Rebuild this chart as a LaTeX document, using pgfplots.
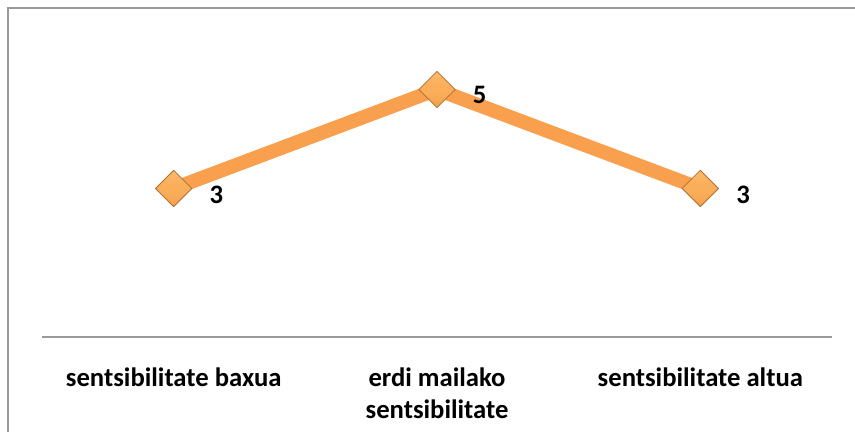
\documentclass[border=0pt]{standalone}
\usepackage{fontspec}
\setmainfont{Carlito}
\usepackage{pgfplots}
\pgfplotsset{compat=1.18}
\definecolor{lineorange}{HTML}{F9A04F}
\definecolor{marklight}{HTML}{FDC98A}
\definecolor{markmid}{HTML}{FAAE5A}
\definecolor{markdark}{HTML}{E98E3C}
\definecolor{markdraw}{HTML}{B0702E}
\definecolor{framegray}{HTML}{9A9A9A}
\pgfdeclareverticalshading{diamondshade}{100bp}{color(0bp)=(markdark); color(45bp)=(markmid); color(55bp)=(markmid); color(100bp)=(marklight)}
\pgfdeclareplotmark{shdiamond}{%
  \pgfpathmoveto{\pgfqpoint{0pt}{\pgfplotmarksize}}%
  \pgfpathlineto{\pgfqpoint{\pgfplotmarksize}{0pt}}%
  \pgfpathlineto{\pgfqpoint{0pt}{-\pgfplotmarksize}}%
  \pgfpathlineto{\pgfqpoint{-\pgfplotmarksize}{0pt}}%
  \pgfpathclose
  \pgfshadepath{diamondshade}{0}%
  \pgfusepathqstroke
}
\begin{document}
\begin{tikzpicture}[x=0.375pt,y=0.375pt]
\useasboundingbox (0,0) rectangle (855,432);
% chart frame (right and bottom edges are cut off)
\draw[framegray, line width=0.75pt] (8,0) -- (8,424) -- (855,424);
\begin{axis}[
    at={(15.75pt,35.625pt)}, anchor=south west,
    scale only axis,
    width=296.25pt, height=111.375pt,
    xmin=0, xmax=3,
    ymin=0, ymax=6,
    axis y line=none,
    axis x line=bottom,
    x axis line style={-, framegray, line width=0.75pt},
    xtick={0.5,1.5,2.5},
    xticklabels={{sentsibilitate baxua},{erdi mailako\\sentsibilitate},{sentsibilitate altua}},
    xticklabel style={align=center, font=\bfseries, yshift=-8pt},
    major tick length=0pt,
    ytick=\empty,
    clip=false,
    /pgf/number format/assume math mode=true,
]
\addplot[lineorange, line width=5.25pt,
    mark=shdiamond, mark size=6.8pt,
    mark options={draw=markdraw, line width=0.3pt},
    nodes near coords,
    nodes near coords style={anchor=west, xshift=10pt, yshift=-2.2pt, font=\bfseries, text=black}]
    coordinates {(0.5,3) (1.5,5) (2.5,3)};
\end{axis}
\end{tikzpicture}
\end{document}
